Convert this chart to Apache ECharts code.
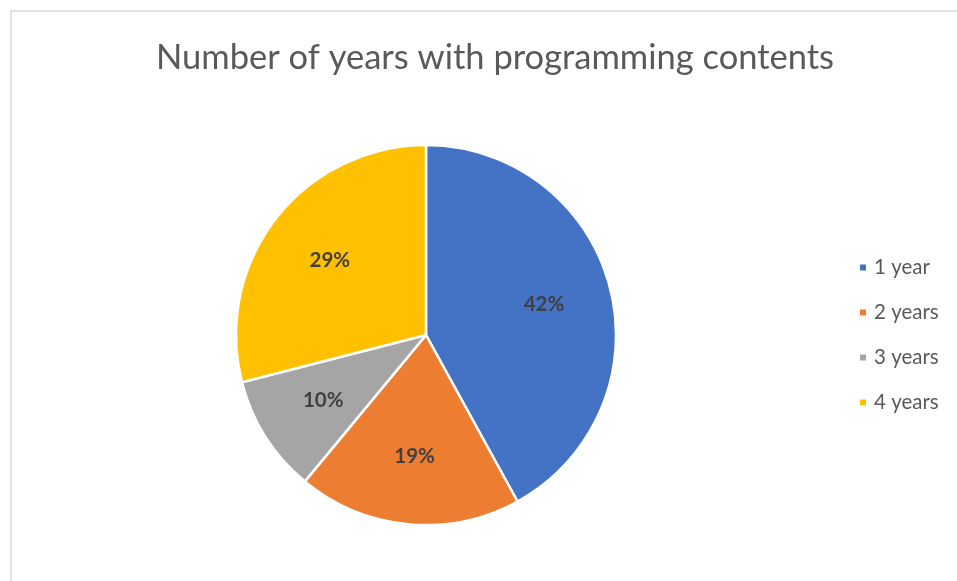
<!DOCTYPE html>
<html>
<head>
<meta charset="utf-8">
<title>Number of years with programming contents</title>
<script src="https://cdn.jsdelivr.net/npm/echarts@6/dist/echarts.min.js"></script>
<style>
  html, body { margin: 0; padding: 0; background: #fff; }
  #chart { width: 957px; height: 581px; }
</style>
</head>
<body>
<div id="chart"></div>
<script>
// Share of respondents by number of years with programming contents
const categories = ['1 year', '2 years', '3 years', '4 years'];
const shares = [42, 19, 10, 29];
const sliceColors = ['#4472C4', '#ED7D31', '#A5A5A5', '#FFC000'];

const pieData = categories.map((name, i) => ({
  name: name,
  value: shares[i],
  itemStyle: { color: sliceColors[i] }
}));

const chart = echarts.init(document.getElementById('chart'), null, { renderer: 'canvas' });

const center = [426, 335];
const pieRadius = 190;

chart.setOption({
  animation: false,
  backgroundColor: '#ffffff',
  graphic: [{
    type: 'rect',
    shape: { x: 11, y: 11, width: 1000, height: 700 },
    style: { fill: 'none', stroke: '#d9d9d9', lineWidth: 1.5 },
    silent: true,
    z: 0
  }],
  title: {
    text: 'Number of years with programming contents',
    left: 490,
    top: 35,
    textAlign: 'center',
    textStyle: {
      fontFamily: 'Lato',
      fontWeight: 'normal',
      fontSize: 34.5,
      color: '#595959'
    }
  },
  legend: {
    orient: 'vertical',
    left: 853,
    top: 252,
    itemWidth: 8,
    itemHeight: 8,
    itemGap: 24,
    icon: 'rect',
    data: categories,
    textStyle: {
      fontFamily: 'Lato',
      fontSize: 20.5,
      color: '#595959',
      padding: [0, 0, 0, 2]
    }
  },
  series: [
    {
      // visible slices
      type: 'pie',
      center: center,
      radius: [0, pieRadius],
      startAngle: 90,
      clockwise: true,
      silent: true,
      label: { show: false },
      labelLine: { show: false },
      itemStyle: { borderColor: '#ffffff', borderWidth: 2.5 },
      data: pieData,
      z: 2
    },
    {
      // transparent twin used only to place the percentage labels further out
      type: 'pie',
      center: center,
      radius: [0, pieRadius * 1.25],
      startAngle: 90,
      clockwise: true,
      silent: true,
      legendHoverLink: false,
      itemStyle: { color: 'rgba(0,0,0,0)', borderWidth: 0 },
      label: {
        show: true,
        position: 'inside',
        formatter: p => p.value + '%',
        fontFamily: 'Lato',
        fontWeight: 'bold',
        fontSize: 20.5,
        color: '#404040'
      },
      labelLine: { show: false },
      data: categories.map((name, i) => ({ name: name, value: shares[i] })),
      z: 3
    }
  ]
});
</script>
</body>
</html>
